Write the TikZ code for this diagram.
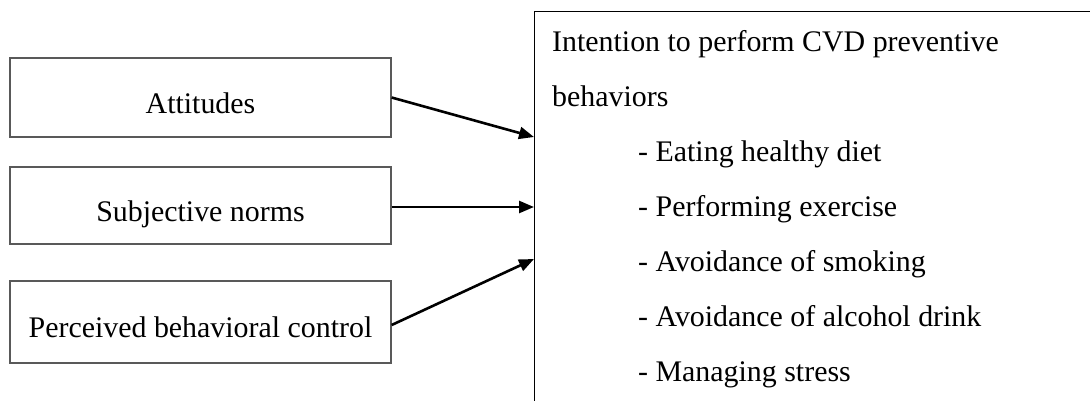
\documentclass[tikz,border=0pt]{standalone}
\usepackage{fontspec}
\setmainfont{Liberation Serif}
\usetikzlibrary{arrows.meta}
\begin{document}
\begin{tikzpicture}[x=1pt,y=-1pt,
  every node/.style={font=\fontsize{29.9}{35}\selectfont},
  leftbox/.style={draw=black!65, line width=1.3pt, minimum width=381pt, inner sep=0pt, text height=31pt, text depth=0pt},
  line/.style={anchor=base west, inner sep=0pt},
  arr/.style={line width=2.6pt, -{Triangle[length=15pt,width=12pt]}}]
\useasboundingbox (0,0) rectangle (1090,400);
% right box
\draw[line width=1pt] (1200,11) -- (534,11) -- (534,420);
\coordinate (rb) at (534,11);
\node[leftbox, minimum height=79pt] (att) at (200.5,97.5) {Attitudes};
\node[leftbox, minimum height=77pt] (sub) at (200.5,205.5) {Subjective norms};
\node[leftbox, minimum height=82pt] (pbc) at (200.5,322) {Perceived behavioral control};
\coordinate (t1) at (534,137);
\coordinate (t2) at (534,207);
\coordinate (t3) at (534,259);
\draw[arr] (att.east) -- (t1);
\draw[arr] (sub.east |- t2) -- (t2);
\draw[arr] ([yshift=-3pt]pbc.east) -- (t3);
\node[line] (l1) at (552,51) {Intention to perform CVD preventive};
\node[line] (l2) at (552,106) {behaviors};
\node[line] (l3) at (638,161) {- Eating healthy diet};
\node[line] (l4) at (638,216) {- Performing exercise};
\node[line] (l5) at (638,271) {- Avoidance of smoking};
\node[line] (l6) at (638,326) {- Avoidance of alcohol drink};
\node[line] (l7) at (638,381) {- Managing stress};
\end{tikzpicture}
\end{document}
